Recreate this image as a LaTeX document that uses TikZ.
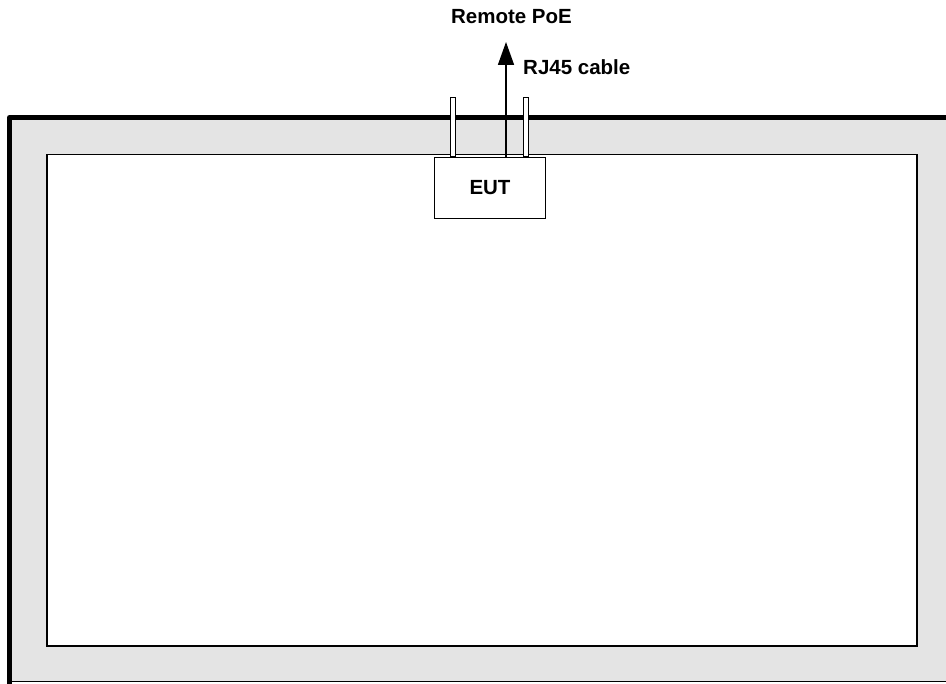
\documentclass[tikz,border=0pt]{standalone}
\usepackage{fontspec}
\setmainfont{Liberation Sans}
\usetikzlibrary{arrows.meta}
\definecolor{wallgray}{HTML}{E4E4E4}
\begin{document}
\begin{tikzpicture}[x=1pt,y=-1pt,
  lbl/.style={font=\fontsize{20.5}{24}\selectfont\bfseries, inner sep=0pt},
  antenna/.style={draw=black, fill=white, line width=1pt, minimum width=5pt, minimum height=59pt, inner sep=0pt},
  eutbox/.style={draw=black, fill=white, line width=1.3pt, minimum width=111.5pt, minimum height=61pt, inner sep=0pt, font=\fontsize{20.5}{24}\selectfont\bfseries},
  cable/.style={line width=1.6pt, -{Triangle[width=16pt,length=23pt]}}]
\useasboundingbox (0,0) rectangle (946,684);
% room wall
\fill[wallgray] (9.5,117.5) rectangle (950,681.5);
\draw[line width=1.4pt] (9.5,681.5) -- (950,681.5);
\draw[line width=5pt, line join=round] (9.5,684) -- (9.5,117.5) -- (950,117.5);
% inner room
\draw[line width=1.4pt, fill=white] (47,154.5) rectangle (917,646);
% antennas
\node[antenna] (antL) at (452.5,127.5) {};
\node[antenna] (antR) at (525.5,127.5) {};
% EUT
\node[eutbox] (eut) at (490,187.8) {EUT};
% cable
\coordinate (tip) at (506,42);
\draw[cable] (tip |- eut.north) -- (tip);
% labels
\node[lbl, anchor=base] (remote) at (511.5,24) {Remote PoE};
\node[lbl, anchor=base west] (rj45) at (523,75) {RJ45 cable};
\end{tikzpicture}
\end{document}
